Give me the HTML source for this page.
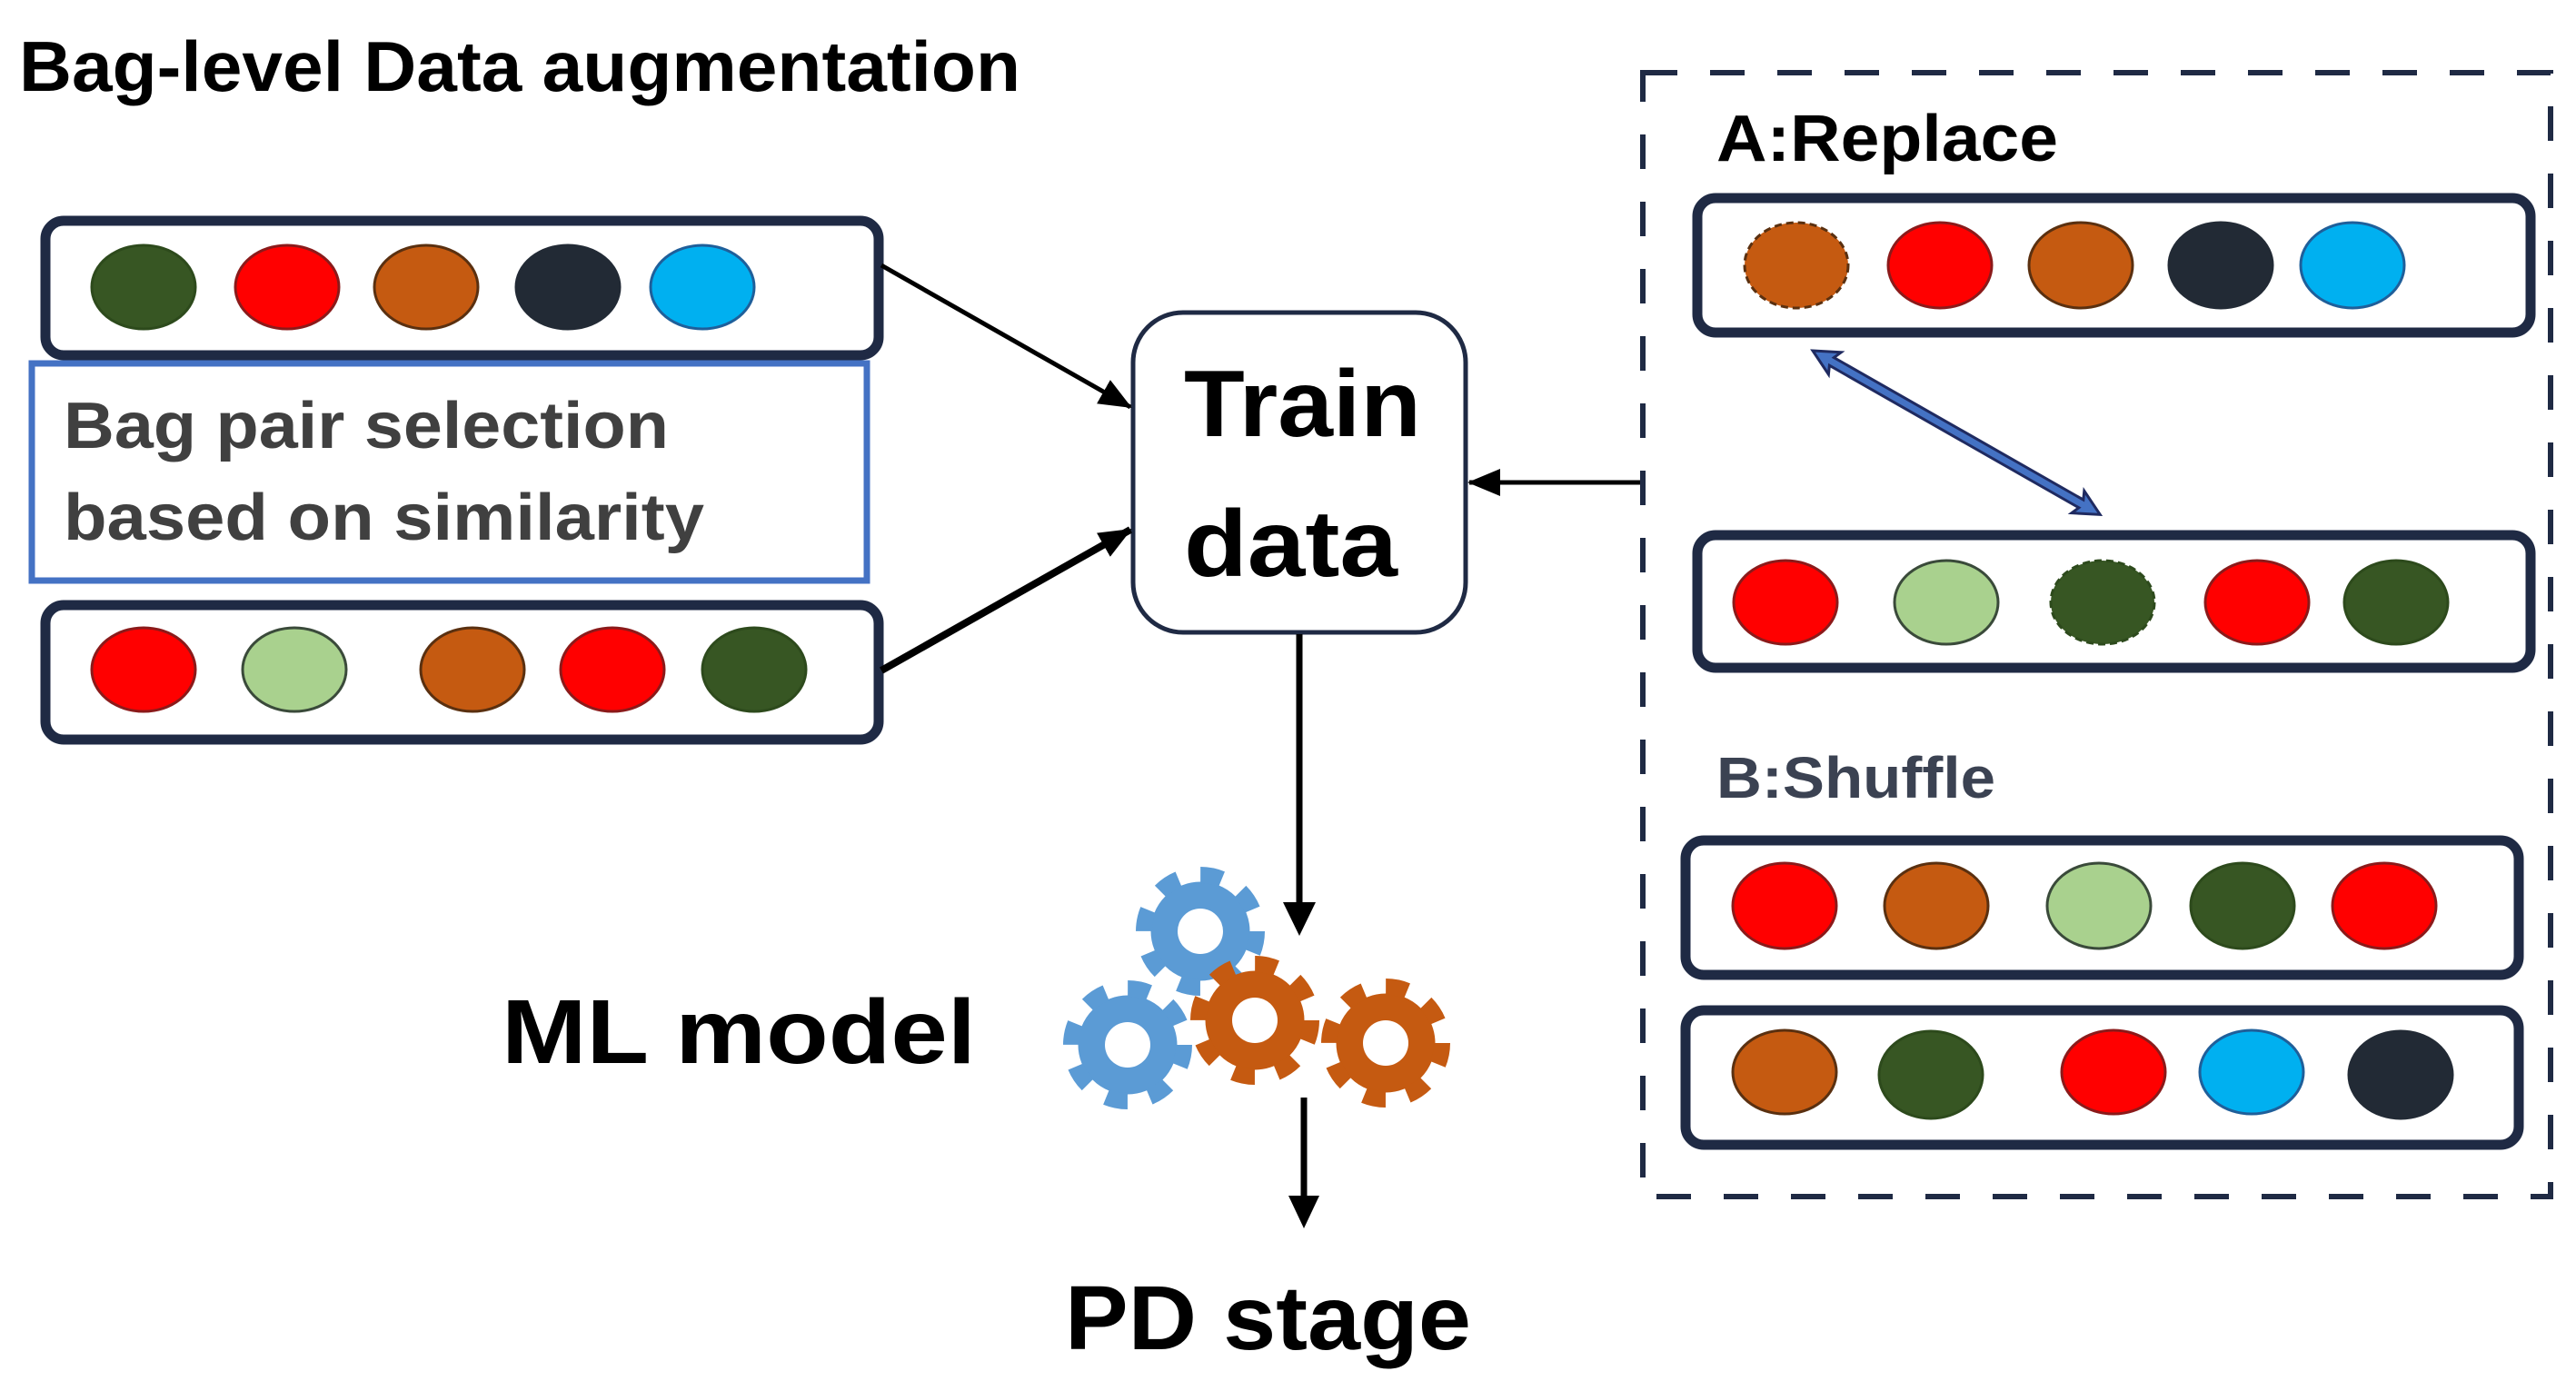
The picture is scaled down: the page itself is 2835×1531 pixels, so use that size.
<!DOCTYPE html>
<html><head><meta charset="utf-8"><style>html,body{margin:0;padding:0;background:#fff}svg{display:block}</style></head><body>
<svg width="2835" height="1531" viewBox="0 0 2835 1531" xmlns="http://www.w3.org/2000/svg" font-family="'Liberation Sans', sans-serif" font-weight="bold">
<defs>
<marker id="ah" markerWidth="36" markerHeight="30" refX="34" refY="15" orient="auto" markerUnits="userSpaceOnUse" viewBox="0 0 36 30"><path d="M0,0 L36,15 L0,30 z" fill="#000"/></marker>
<g id="gearB"><circle r="54"/><circle r="62" fill="none" stroke-width="18" stroke-dasharray="24 24.7"/></g>
</defs>
<text x="21" y="100" font-size="78" textLength="1102" lengthAdjust="spacingAndGlyphs" fill="#000">Bag-level Data augmentation</text>

<rect x="50" y="243" width="917" height="148" rx="20" fill="#fff" stroke="#1f2a44" stroke-width="11"/>
<g stroke-width="3">
<ellipse cx="158" cy="316" rx="57" ry="46" fill="#375623" stroke="#2d4a1c"/>
<ellipse cx="316" cy="316" rx="57" ry="46" fill="#ff0000" stroke="#8b1a1a"/>
<ellipse cx="469" cy="316" rx="57" ry="46" fill="#c55a11" stroke="#5a3010"/>
<ellipse cx="625" cy="316" rx="57" ry="46" fill="#222a35" stroke="#222a35"/>
<ellipse cx="773" cy="316" rx="57" ry="46" fill="#00b0f0" stroke="#1f5f9a"/>
</g>
<rect x="35" y="400" width="919" height="239" fill="#fff" stroke="#4472c4" stroke-width="7"/>
<text x="70" y="493" font-size="72" fill="#404040" textLength="666" lengthAdjust="spacingAndGlyphs">Bag pair selection</text>
<text x="70" y="594" font-size="72" fill="#404040" textLength="705" lengthAdjust="spacingAndGlyphs">based on similarity</text>
<rect x="50" y="666" width="917" height="148" rx="20" fill="#fff" stroke="#1f2a44" stroke-width="11"/>
<g stroke-width="3">
<ellipse cx="158" cy="737" rx="57" ry="46" fill="#ff0000" stroke="#8b1a1a"/>
<ellipse cx="324" cy="737" rx="57" ry="46" fill="#a9d18e" stroke="#3a4a3a"/>
<ellipse cx="520" cy="737" rx="57" ry="46" fill="#c55a11" stroke="#5a3010"/>
<ellipse cx="674" cy="737" rx="57" ry="46" fill="#ff0000" stroke="#8b1a1a"/>
<ellipse cx="830" cy="737" rx="57" ry="46" fill="#375623" stroke="#2d4a1c"/>
</g>

<rect x="1247" y="344" width="366" height="352" rx="55" fill="#fff" stroke="#1f2a44" stroke-width="5"/>
<text x="1303" y="480" font-size="104" fill="#000" textLength="261" lengthAdjust="spacingAndGlyphs">Train</text>
<text x="1303" y="634" font-size="104" fill="#000" textLength="235" lengthAdjust="spacingAndGlyphs">data</text>

<line x1="970" y1="292" x2="1244" y2="448" stroke="#000" stroke-width="5" marker-end="url(#ah)"/>
<line x1="970" y1="738" x2="1244" y2="583" stroke="#000" stroke-width="8" marker-end="url(#ah)"/>
<line x1="1808" y1="531" x2="1617" y2="531" stroke="#000" stroke-width="5" marker-end="url(#ah)"/>
<line x1="1430" y1="698" x2="1430" y2="995" stroke="#000" stroke-width="7"/>
<path d="M1412,993 L1448,993 L1430,1030 z" fill="#000"/>
<line x1="1435" y1="1208" x2="1435" y2="1320" stroke="#000" stroke-width="7"/>
<path d="M1418,1316 L1452,1316 L1435,1352 z" fill="#000"/>

<g fill="#5b9bd5" stroke="#5b9bd5">
<use href="#gearB" x="1321" y="1025"/>
<use href="#gearB" x="1241" y="1150"/>
</g>
<g fill="#c55a11" stroke="#c55a11">
<use href="#gearB" x="1381" y="1123"/>
<use href="#gearB" x="1525" y="1148"/>
</g>
<g fill="#fff">
<circle cx="1321" cy="1025" r="25"/><circle cx="1241" cy="1150" r="25"/>
<circle cx="1381" cy="1123" r="25"/><circle cx="1525" cy="1148" r="25"/>
</g>
<text x="552" y="1170" font-size="100" fill="#000" textLength="522" lengthAdjust="spacingAndGlyphs">ML model</text>
<text x="1172" y="1485" font-size="100" fill="#000" textLength="447" lengthAdjust="spacingAndGlyphs">PD stage</text>

<rect x="1808" y="80" width="999" height="1237" fill="none" stroke="#1f2a44" stroke-width="6" stroke-dasharray="38 36"/>
<text x="1889" y="177" font-size="72" fill="#000" textLength="376" lengthAdjust="spacingAndGlyphs">A:Replace</text>
<rect x="1868" y="218" width="917" height="148" rx="20" fill="#fff" stroke="#1f2a44" stroke-width="11"/>
<g stroke-width="3">
<ellipse cx="1977" cy="292" rx="57" ry="47" fill="#c55a11" stroke="#5a3010" stroke-dasharray="8 5"/>
<ellipse cx="2135" cy="292" rx="57" ry="47" fill="#ff0000" stroke="#8b1a1a"/>
<ellipse cx="2290" cy="292" rx="57" ry="47" fill="#c55a11" stroke="#5a3010"/>
<ellipse cx="2444" cy="292" rx="57" ry="47" fill="#222a35" stroke="#222a35"/>
<ellipse cx="2589" cy="292" rx="57" ry="47" fill="#00b0f0" stroke="#1f5f9a"/>
</g>
<g transform="translate(1995,386) rotate(29.7)">
<path d="M0,0 L28,-14 L24,-5 L340,-5 L336,-14 L364,0 L336,14 L340,5 L24,5 L28,14 z" fill="#4472c4" stroke="#1f2a60" stroke-width="3"/>
</g>
<rect x="1868" y="589" width="917" height="146" rx="20" fill="#fff" stroke="#1f2a44" stroke-width="11"/>
<g stroke-width="3">
<ellipse cx="1965" cy="663" rx="57" ry="46" fill="#ff0000" stroke="#8b1a1a"/>
<ellipse cx="2142" cy="663" rx="57" ry="46" fill="#a9d18e" stroke="#3a4a3a"/>
<ellipse cx="2314" cy="663" rx="57" ry="46" fill="#375623" stroke="#2d4a1c" stroke-dasharray="8 5"/>
<ellipse cx="2484" cy="663" rx="57" ry="46" fill="#ff0000" stroke="#8b1a1a"/>
<ellipse cx="2637" cy="663" rx="57" ry="46" fill="#375623" stroke="#2d4a1c"/>
</g>
<text x="1889" y="878" font-size="64" fill="#3b4252" textLength="307" lengthAdjust="spacingAndGlyphs">B:Shuffle</text>
<rect x="1855" y="925" width="917" height="148" rx="20" fill="#fff" stroke="#1f2a44" stroke-width="11"/>
<g stroke-width="3">
<ellipse cx="1964" cy="997" rx="57" ry="47" fill="#ff0000" stroke="#8b1a1a"/>
<ellipse cx="2131" cy="997" rx="57" ry="47" fill="#c55a11" stroke="#5a3010"/>
<ellipse cx="2310" cy="997" rx="57" ry="47" fill="#a9d18e" stroke="#3a4a3a"/>
<ellipse cx="2468" cy="997" rx="57" ry="47" fill="#375623" stroke="#2d4a1c"/>
<ellipse cx="2624" cy="997" rx="57" ry="47" fill="#ff0000" stroke="#8b1a1a"/>
</g>
<rect x="1855" y="1112" width="917" height="148" rx="20" fill="#fff" stroke="#1f2a44" stroke-width="11"/>
<g stroke-width="3">
<ellipse cx="1964" cy="1180" rx="57" ry="46" fill="#c55a11" stroke="#5a3010"/>
<ellipse cx="2125" cy="1183" rx="57" ry="48" fill="#375623" stroke="#2d4a1c"/>
<ellipse cx="2326" cy="1180" rx="57" ry="46" fill="#ff0000" stroke="#8b1a1a"/>
<ellipse cx="2478" cy="1180" rx="57" ry="46" fill="#00b0f0" stroke="#1f5f9a"/>
<ellipse cx="2642" cy="1183" rx="57" ry="48" fill="#222a35" stroke="#222a35"/>
</g>
</svg>
</body></html>
